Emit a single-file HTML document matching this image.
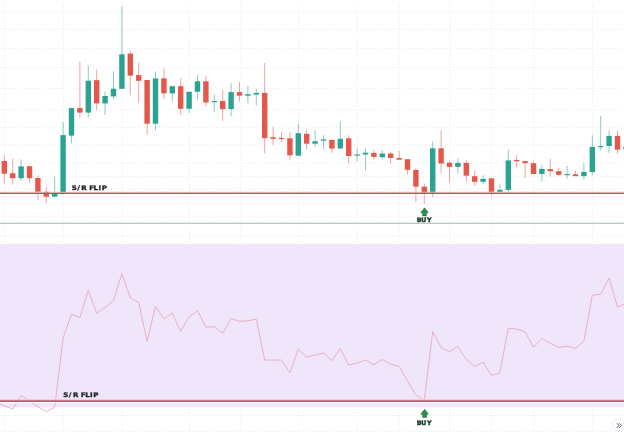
<!DOCTYPE html>
<html><head><meta charset="utf-8"><title>Chart</title>
<style>
html,body{margin:0;padding:0;background:#fff;width:624px;height:432px;overflow:hidden;}
svg{display:block;}
.lbl{font-family:"DejaVu Sans","Liberation Sans",sans-serif;font-weight:bold;filter:saturate(1.01);}
.lbl2{font-family:"DejaVu Sans","Liberation Sans",sans-serif;font-weight:bold;filter:saturate(1.01);}
</style></head><body>
<svg width="624" height="432" viewBox="0 0 624 432">
<g stroke="#e6e9f0" stroke-width="1" stroke-dasharray="1 2"><line x1="4.5" y1="4" x2="4.5" y2="432"/><line x1="63.3" y1="4" x2="63.3" y2="432"/><line x1="122.3" y1="4" x2="122.3" y2="432"/><line x1="189.4" y1="4" x2="189.4" y2="432"/><line x1="240.2" y1="4" x2="240.2" y2="432"/><line x1="298.7" y1="4" x2="298.7" y2="432"/><line x1="357.3" y1="4" x2="357.3" y2="432"/><line x1="399.2" y1="4" x2="399.2" y2="432"/><line x1="450.1" y1="4" x2="450.1" y2="432"/><line x1="491.5" y1="4" x2="491.5" y2="432"/><line x1="533.8" y1="4" x2="533.8" y2="432"/><line x1="592.5" y1="4" x2="592.5" y2="432"/><line x1="0" y1="12.3" x2="624" y2="12.3"/><line x1="0" y1="29.4" x2="624" y2="29.4"/><line x1="0" y1="48.3" x2="624" y2="48.3"/><line x1="0" y1="67.7" x2="624" y2="67.7"/><line x1="0" y1="88.2" x2="624" y2="88.2"/><line x1="0" y1="110.0" x2="624" y2="110.0"/><line x1="0" y1="127.3" x2="624" y2="127.3"/><line x1="0" y1="144.8" x2="624" y2="144.8"/><line x1="0" y1="163.2" x2="624" y2="163.2"/><line x1="0" y1="176.4" x2="624" y2="176.4"/><line x1="0" y1="189.3" x2="624" y2="189.3"/><line x1="0" y1="203.8" x2="624" y2="203.8"/><line x1="0" y1="216.2" x2="624" y2="216.2"/><line x1="0" y1="236.3" x2="624" y2="236.3"/><line x1="0" y1="415.5" x2="624" y2="415.5"/><line x1="0" y1="431.3" x2="624" y2="431.3"/></g>
<rect x="0" y="243.8" width="624" height="163.6" fill="#efe6fb"/>
<line x1="0" y1="244.3" x2="624" y2="244.3" stroke="#ecebea" stroke-width="0.6"/>
<g stroke="#ece3f8" stroke-width="0.8"></g>
<line x1="0" y1="222.2" x2="624" y2="222.2" stroke="#eef0f0" stroke-width="1"/>
<line x1="0" y1="223.4" x2="624" y2="223.4" stroke="#b6c2c2" stroke-width="1.0"/>
<g stroke="#e4574a" stroke-width="1" stroke-opacity="0.55"><line x1="4.30" y1="155.4" x2="4.30" y2="183.7"/><line x1="12.70" y1="158.6" x2="12.70" y2="184.5"/><line x1="29.50" y1="165.5" x2="29.50" y2="183"/><line x1="37.90" y1="175.3" x2="37.90" y2="200"/><line x1="46.30" y1="187" x2="46.30" y2="203"/><line x1="79.90" y1="61.6" x2="79.90" y2="117.5"/><line x1="96.70" y1="69.7" x2="96.70" y2="110.2"/><line x1="130.30" y1="51.2" x2="130.30" y2="95.2"/><line x1="138.70" y1="62.7" x2="138.70" y2="103.2"/><line x1="147.10" y1="80" x2="147.10" y2="134.7"/><line x1="163.90" y1="68.3" x2="163.90" y2="99.1"/><line x1="180.70" y1="78.4" x2="180.70" y2="114.8"/><line x1="205.90" y1="76" x2="205.90" y2="106.7"/><line x1="222.70" y1="90.2" x2="222.70" y2="121"/><line x1="239.50" y1="82" x2="239.50" y2="101.5"/><line x1="264.70" y1="63" x2="264.70" y2="153.4"/><line x1="273.10" y1="127" x2="273.10" y2="144.8"/><line x1="281.50" y1="131.9" x2="281.50" y2="142.4"/><line x1="289.90" y1="131.9" x2="289.90" y2="160.2"/><line x1="306.70" y1="129.1" x2="306.70" y2="149.7"/><line x1="331.90" y1="139" x2="331.90" y2="152.9"/><line x1="348.70" y1="135.4" x2="348.70" y2="163.4"/><line x1="373.90" y1="150" x2="373.90" y2="159.7"/><line x1="390.70" y1="151.6" x2="390.70" y2="163.7"/><line x1="399.10" y1="150.8" x2="399.10" y2="159.7"/><line x1="407.50" y1="159.2" x2="407.50" y2="174.3"/><line x1="415.90" y1="168.5" x2="415.90" y2="201.8"/><line x1="424.30" y1="183.5" x2="424.30" y2="203.8"/><line x1="441.10" y1="130.3" x2="441.10" y2="172.9"/><line x1="449.50" y1="160.8" x2="449.50" y2="182.6"/><line x1="466.30" y1="160" x2="466.30" y2="181.8"/><line x1="474.70" y1="170.8" x2="474.70" y2="185.9"/><line x1="491.50" y1="178.3" x2="491.50" y2="195.6"/><line x1="516.70" y1="155.1" x2="516.70" y2="167.2"/><line x1="525.10" y1="161.1" x2="525.10" y2="178.3"/><line x1="533.50" y1="161.6" x2="533.50" y2="174"/><line x1="550.30" y1="158.7" x2="550.30" y2="176.5"/><line x1="558.70" y1="168" x2="558.70" y2="176.4"/><line x1="575.50" y1="170.7" x2="575.50" y2="176.4"/><line x1="617.50" y1="131" x2="617.50" y2="153.7"/></g>
<g stroke="#2ca291" stroke-width="1" stroke-opacity="0.55"><line x1="21.10" y1="159.4" x2="21.10" y2="180.8"/><line x1="54.70" y1="176.4" x2="54.70" y2="196.7"/><line x1="63.10" y1="122.1" x2="63.10" y2="195"/><line x1="71.50" y1="108.1" x2="71.50" y2="143.2"/><line x1="88.30" y1="65.7" x2="88.30" y2="117.5"/><line x1="105.10" y1="91.6" x2="105.10" y2="115"/><line x1="113.50" y1="71.3" x2="113.50" y2="98.9"/><line x1="121.90" y1="6" x2="121.90" y2="88.8"/><line x1="155.50" y1="71.6" x2="155.50" y2="130.2"/><line x1="172.30" y1="86.2" x2="172.30" y2="101.2"/><line x1="189.10" y1="91.8" x2="189.10" y2="113.2"/><line x1="197.50" y1="74.8" x2="197.50" y2="99.7"/><line x1="214.30" y1="94.5" x2="214.30" y2="112"/><line x1="231.10" y1="83.2" x2="231.10" y2="116.4"/><line x1="247.90" y1="86" x2="247.90" y2="103.1"/><line x1="256.30" y1="88.9" x2="256.30" y2="105.9"/><line x1="298.30" y1="123.8" x2="298.30" y2="155.7"/><line x1="315.10" y1="130.2" x2="315.10" y2="146.9"/><line x1="323.50" y1="135.1" x2="323.50" y2="149.4"/><line x1="340.30" y1="121.3" x2="340.30" y2="148.5"/><line x1="357.10" y1="148.8" x2="357.10" y2="161.3"/><line x1="365.50" y1="148.3" x2="365.50" y2="170.2"/><line x1="382.30" y1="150" x2="382.30" y2="159.7"/><line x1="432.70" y1="141.3" x2="432.70" y2="197.4"/><line x1="457.90" y1="158.5" x2="457.90" y2="173.4"/><line x1="483.10" y1="175.3" x2="483.10" y2="184.3"/><line x1="499.90" y1="184.3" x2="499.90" y2="191.9"/><line x1="508.30" y1="149.4" x2="508.30" y2="192.3"/><line x1="541.90" y1="164.8" x2="541.90" y2="181.8"/><line x1="567.10" y1="165.9" x2="567.10" y2="178.8"/><line x1="583.90" y1="163.1" x2="583.90" y2="179.6"/><line x1="592.30" y1="135.1" x2="592.30" y2="174.8"/><line x1="600.70" y1="115.7" x2="600.70" y2="150.5"/><line x1="609.10" y1="130.2" x2="609.10" y2="152.9"/><line x1="625.90" y1="143" x2="625.90" y2="151"/></g>
<g fill="#e4574a"><rect x="1.60" y="161" width="5.4" height="12.70"/><rect x="10.00" y="173.2" width="5.4" height="5.00"/><rect x="26.80" y="166.2" width="5.4" height="12.00"/><rect x="35.20" y="178" width="5.4" height="13.80"/><rect x="43.60" y="191.8" width="5.4" height="4.90"/><rect x="77.20" y="108.1" width="5.4" height="4.50"/><rect x="94.00" y="80.2" width="5.4" height="23.20"/><rect x="127.60" y="53.6" width="5.4" height="22.00"/><rect x="136.00" y="75.1" width="5.4" height="5.70"/><rect x="144.40" y="80" width="5.4" height="43.70"/><rect x="161.20" y="78.4" width="5.4" height="15.00"/><rect x="178.00" y="86.2" width="5.4" height="22.60"/><rect x="203.20" y="81.3" width="5.4" height="21.20"/><rect x="220.00" y="101" width="5.4" height="8.10"/><rect x="236.80" y="92.1" width="5.4" height="3.60"/><rect x="262.00" y="92.9" width="5.4" height="45.20"/><rect x="270.40" y="137.2" width="5.4" height="1.60"/><rect x="278.80" y="137.9" width="5.4" height="1.20"/><rect x="287.20" y="138.3" width="5.4" height="17.00"/><rect x="304.00" y="133.8" width="5.4" height="9.90"/><rect x="329.20" y="140" width="5.4" height="8.50"/><rect x="346.00" y="138.3" width="5.4" height="17.70"/><rect x="371.20" y="152.9" width="5.4" height="4.00"/><rect x="388.00" y="153.5" width="5.4" height="4.50"/><rect x="396.40" y="158" width="5.4" height="1.70"/><rect x="404.80" y="159.2" width="5.4" height="10.60"/><rect x="413.20" y="170" width="5.4" height="16.70"/><rect x="421.60" y="186.7" width="5.4" height="6.30"/><rect x="438.40" y="148.3" width="5.4" height="15.20"/><rect x="446.80" y="162.7" width="5.4" height="4.20"/><rect x="463.60" y="162.9" width="5.4" height="12.80"/><rect x="472.00" y="176.2" width="5.4" height="5.60"/><rect x="488.80" y="178.3" width="5.4" height="13.60"/><rect x="514.00" y="160" width="5.4" height="1.30"/><rect x="522.40" y="161.1" width="5.4" height="2.10"/><rect x="530.80" y="163.2" width="5.4" height="10.80"/><rect x="547.60" y="169.1" width="5.4" height="2.10"/><rect x="556.00" y="171.2" width="5.4" height="3.60"/><rect x="572.80" y="174.3" width="5.4" height="1.80"/><rect x="614.80" y="135.9" width="5.4" height="13.80"/></g>
<g fill="#2ca291"><rect x="18.40" y="166.4" width="5.4" height="11.80"/><rect x="52.00" y="193.4" width="5.4" height="3.30"/><rect x="60.40" y="135.1" width="5.4" height="57.50"/><rect x="68.80" y="108.1" width="5.4" height="27.50"/><rect x="85.60" y="80.7" width="5.4" height="31.90"/><rect x="102.40" y="96" width="5.4" height="7.40"/><rect x="110.80" y="88.7" width="5.4" height="7.70"/><rect x="119.20" y="54.3" width="5.4" height="34.50"/><rect x="152.80" y="78.4" width="5.4" height="45.30"/><rect x="169.60" y="86.2" width="5.4" height="7.20"/><rect x="186.40" y="91.8" width="5.4" height="17.00"/><rect x="194.80" y="81.3" width="5.4" height="10.50"/><rect x="211.60" y="101" width="5.4" height="1.20"/><rect x="228.40" y="92.1" width="5.4" height="17.00"/><rect x="245.20" y="94.2" width="5.4" height="1.50"/><rect x="253.60" y="92.9" width="5.4" height="1.80"/><rect x="295.60" y="133.2" width="5.4" height="22.50"/><rect x="312.40" y="141.3" width="5.4" height="2.40"/><rect x="320.80" y="139.5" width="5.4" height="1.30"/><rect x="337.60" y="138.8" width="5.4" height="9.70"/><rect x="354.40" y="154.5" width="5.4" height="1.20"/><rect x="362.80" y="152.7" width="5.4" height="1.80"/><rect x="379.60" y="153.5" width="5.4" height="3.70"/><rect x="430.00" y="148.3" width="5.4" height="44.50"/><rect x="455.20" y="162.9" width="5.4" height="4.00"/><rect x="480.40" y="178.8" width="5.4" height="3.00"/><rect x="497.20" y="189.9" width="5.4" height="2.00"/><rect x="505.60" y="160.4" width="5.4" height="29.50"/><rect x="539.20" y="168.9" width="5.4" height="5.10"/><rect x="564.40" y="174" width="5.4" height="1.20"/><rect x="581.20" y="171.9" width="5.4" height="4.20"/><rect x="589.60" y="146.9" width="5.4" height="25.10"/><rect x="598.00" y="146" width="5.4" height="1.20"/><rect x="606.40" y="135.9" width="5.4" height="10.10"/><rect x="623.20" y="146.9" width="5.4" height="2.30"/></g>
<line x1="0" y1="192.25" x2="624" y2="192.25" stroke="#e6c0c0" stroke-width="1.1"/>
<line x1="0" y1="193.45" x2="624" y2="193.45" stroke="#c64a55" stroke-width="1.3"/>
<text class="lbl" transform="translate(71.9,189.6) scale(1.12,1)" x="-0.23 4.73 8.39 12.72 15.40 19.33 23.75 26.65" y="0" font-size="6.3" fill="#1c1c1c" stroke="#1c1c1c" stroke-width="0.3">S/R FLIP</text>
<path d="M424.50 207.80 L428.25 212.40 L426.40 213.40 L426.40 215.90 L422.60 215.90 L422.60 213.40 L420.75 212.40 Z" fill="#2c8f4c" stroke="#1f5a34" stroke-width="0.5" stroke-linejoin="round"/>
<text class="lbl2" x="416.77 421.17 426.91" y="221.8" font-size="6.3" fill="#173a24" stroke="#173a24" stroke-width="0.4">BUY</text>
<polyline points="0,404 4.30,405.8 12.70,409.1 21.10,395.4 29.50,401 37.90,406.5 46.30,411.7 54.70,407.2 63.10,338 71.50,314.2 79.90,317.5 88.30,290.4 96.70,313.4 105.10,307.3 113.50,300.8 121.90,273.5 130.30,298 138.70,302.6 147.10,341.2 155.50,306.3 163.90,318.8 172.30,313.2 180.70,331.3 189.10,317 197.50,310.6 205.90,327.2 214.30,326.8 222.70,333.3 231.10,318.5 239.50,321.3 247.90,320.8 256.30,319.2 264.70,360.1 273.10,360.1 281.50,360.1 289.90,373 298.30,349.2 306.70,357.2 315.10,355 323.50,353.1 331.90,360.7 340.30,348.5 348.70,365.1 357.10,363 365.50,360 373.90,364.7 382.30,359.4 390.70,364.2 399.10,366.3 407.50,381 415.90,395 424.30,400 432.70,331.5 441.10,347.5 449.50,351.7 457.90,346.5 466.30,359.6 474.70,366.4 483.10,362.1 491.50,375.6 499.90,372.8 508.30,328.1 516.70,329.1 525.10,331.9 533.50,347.2 541.90,338.5 550.30,343.3 558.70,347.5 567.10,346.1 575.50,348.4 583.90,341 592.30,295.1 600.70,294.4 609.10,278.1 617.50,307 625.90,303.5" fill="none" stroke="#e9a9b5" stroke-width="0.9" stroke-linejoin="miter"/>
<line x1="0" y1="399.3" x2="624" y2="399.3" stroke="#f6f0fa" stroke-width="0.8"/>
<line x1="0" y1="400.4" x2="624" y2="400.4" stroke="#c37d8c" stroke-width="1.2"/>
<line x1="0" y1="401.55" x2="624" y2="401.55" stroke="#ad5e6b" stroke-width="1.1"/>
<line x1="0" y1="402.7" x2="624" y2="402.7" stroke="#ffffff" stroke-width="1"/>
<text class="lbl" transform="translate(63.5,396.7) scale(1.12,1)" x="-0.23 4.73 8.39 12.72 15.40 19.33 23.75 26.65" y="0" font-size="6.3" fill="#1c1c1c" stroke="#1c1c1c" stroke-width="0.3">S/R FLIP</text>
<path d="M424.60 409.30 L428.35 413.90 L426.50 414.90 L426.50 417.40 L422.70 417.40 L422.70 414.90 L420.85 413.90 Z" fill="#2c8f4c" stroke="#1f5a34" stroke-width="0.5" stroke-linejoin="round"/>
<text class="lbl2" x="416.77 421.17 426.91" y="424.7" font-size="6.3" fill="#173a24" stroke="#173a24" stroke-width="0.4">BUY</text>
<circle cx="618.3" cy="425" r="6" fill="#fff" stroke="#e8e8e8" stroke-width="0.8"/>
<path d="M616.9 423.2 L619 425.5 L616.9 427.8 M619.4 423.2 L621.5 425.5 L619.4 427.8" fill="none" stroke="#3a4a6a" stroke-width="0.9"/>
</svg>
</body></html>
